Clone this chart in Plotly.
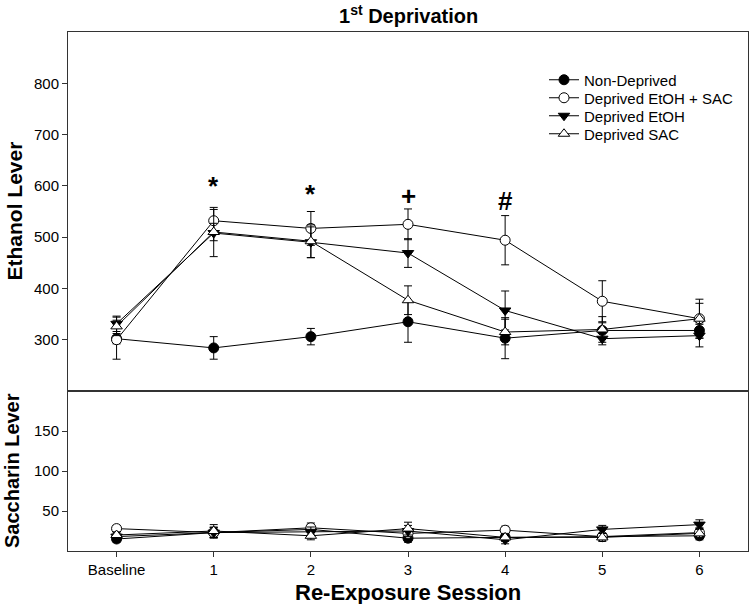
import plotly.graph_objects as go

sessions = [0, 1, 2, 3, 4, 5, 6]
session_labels = ["Baseline", "1", "2", "3", "4", "5", "6"]

series_names = ["Non-Deprived", "Deprived EtOH + SAC", "Deprived EtOH", "Deprived SAC"]

# Ethanol lever (upper panel)
eth_nondep = [302, 284, 306, 335, 303, 318, 318]
eth_nondep_err = [10, 22, 16, 40, 40, 15, 15]
eth_etoh_sac = [300, 532, 517, 525, 494, 375, 341]
eth_etoh_sac_err = [38, 26, 33, 30, 48, 40, 38]
eth_etoh = [331, 508, 490, 469, 357, 302, 308]
eth_etoh_err = [15, 46, 30, 28, 38, 12, 22]
eth_sac = [326, 510, 492, 377, 315, 320, 341]
eth_sac_err = [18, 17, 32, 28, 25, 25, 30]

# Saccharin lever (lower panel)
sac_nondep = [15, 23, 27, 16, 17, 18, 19]
sac_nondep_err = [4, 6, 6, 5, 4, 4, 5]
sac_etoh_sac = [28, 23, 29, 22, 26, 18, 23]
sac_etoh_sac_err = [4, 7, 6, 6, 5, 4, 6]
sac_etoh = [18, 23, 24, 25, 14, 27, 33]
sac_etoh_err = [4, 6, 6, 7, 5, 5, 6]
sac_sac = [20, 25, 19, 28, 17, 17, 22]
sac_sac_err = [4, 8, 5, 8, 5, 5, 6]

# significance markers
sig_sessions = [1, 2, 3, 4]
sig_labels = ["*", "*", "+", "#"]
sig_y = [600, 585, 580, 570]

symbols = ["circle", "circle", "triangle-down", "triangle-up"]
fills = ["black", "white", "black", "white"]
legend_ids = ["legend", "legend2", "legend3", "legend4"]

FONT = "Liberation Sans, Arial, sans-serif"
PLOT_H = 519
split = 160 / PLOT_H
axcol = "#333333"

fig = go.Figure()

upper = [(eth_nondep, eth_nondep_err), (eth_etoh_sac, eth_etoh_sac_err),
         (eth_etoh, eth_etoh_err), (eth_sac, eth_sac_err)]
lower = [(sac_nondep, sac_nondep_err), (sac_etoh_sac, sac_etoh_sac_err),
         (sac_etoh, sac_etoh_err), (sac_sac, sac_sac_err)]

for i, name in enumerate(series_names):
    vals, err = upper[i]
    fig.add_trace(go.Scatter(
        x=sessions, y=vals, name=name, mode="lines+markers",
        xaxis="x2", yaxis="y2", legendgroup=name, legend=legend_ids[i],
        line=dict(color="black", width=1),
        marker=dict(symbol=symbols[i], size=10, color=fills[i],
                    line=dict(color="black", width=1)),
        error_y=dict(type="data", array=err, visible=True, color="black",
                     thickness=1, width=4),
    ))
for i, name in enumerate(series_names):
    vals, err = lower[i]
    fig.add_trace(go.Scatter(
        x=sessions, y=vals, name=name, mode="lines+markers",
        xaxis="x", yaxis="y", legendgroup=name, showlegend=False,
        line=dict(color="black", width=1),
        marker=dict(symbol=symbols[i], size=10, color=fills[i],
                    line=dict(color="black", width=1)),
        error_y=dict(type="data", array=err, visible=True, color="black",
                     thickness=1, width=4),
    ))

layout_legends = {}
for i, lid in enumerate(legend_ids):
    center_px = 80 + 18 * i  # pixel row of each entry, from top of figure
    layout_legends[lid] = dict(
        x=(544 - 68) / 680, y=1 - (center_px - 32) / PLOT_H,
        xanchor="left", yanchor="middle",
        bgcolor="rgba(0,0,0,0)", font=dict(size=15))

fig.update_layout(
    width=749, height=604,
    margin=dict(l=68, r=1, t=32, b=53),
    paper_bgcolor="white", plot_bgcolor="white",
    font=dict(family=FONT, size=15, color="black"),
    showlegend=True,
    xaxis=dict(domain=[0, 1], range=[-0.5, 6.5], anchor="y",
               tickmode="array", tickvals=sessions, ticktext=session_labels,
               ticks="outside", ticklen=5, tickcolor=axcol,
               showline=True, linecolor=axcol, mirror=True,
               showgrid=False, zeroline=False, tickfont=dict(size=15)),
    xaxis2=dict(domain=[0, 1], range=[-0.5, 6.5], anchor="y2", matches="x",
                showticklabels=False, ticks="",
                showline=True, linecolor=axcol, mirror=True,
                showgrid=False, zeroline=False),
    yaxis=dict(domain=[0, split], range=[0, 200], anchor="x",
               tickmode="array", tickvals=[50, 100, 150],
               ticks="outside", ticklen=5, tickcolor=axcol,
               showline=True, linecolor=axcol, mirror=True,
               showgrid=False, zeroline=False, tickfont=dict(size=15)),
    yaxis2=dict(domain=[split, 1], range=[200, 900], anchor="x2",
                tickmode="array", tickvals=[300, 400, 500, 600, 700, 800],
                ticks="outside", ticklen=5, tickcolor=axcol,
                showline=True, linecolor=axcol, mirror=True,
                showgrid=False, zeroline=False, tickfont=dict(size=15)),
    **layout_legends,
)

annotations = [
    dict(text="<b>1<sup>st</sup> Deprivation</b>", xref="paper", yref="paper",
         x=0.5, y=1 + 17 / PLOT_H, xanchor="center", yanchor="middle",
         showarrow=False, font=dict(size=20)),
    dict(text="<b>Ethanol Lever</b>", xref="paper", yref="paper",
         x=-54 / 680, y=split + (1 - split) / 2, xanchor="center", yanchor="middle",
         textangle=-90, showarrow=False, font=dict(size=21)),
    dict(text="<b>Saccharin Lever</b>", xref="paper", yref="paper",
         x=-56 / 680, y=split / 2, xanchor="center", yanchor="middle",
         textangle=-90, showarrow=False, font=dict(size=20)),
    dict(text="<b>Re-Exposure Session</b>", xref="paper", yref="paper",
         x=0.5, y=-41 / PLOT_H, xanchor="center", yanchor="middle",
         showarrow=False, font=dict(size=22)),
]
for s, lab, yy in zip(sig_sessions, sig_labels, sig_y):
    annotations.append(dict(text="<b>" + lab + "</b>", xref="x2", yref="y2",
                            x=s, y=yy, xanchor="center", yanchor="middle",
                            showarrow=False, font=dict(size=26)))
fig.update_layout(annotations=annotations)

fig.write_html("out.html",
               config={"displayModeBar": False},
               post_script="document.body.style.margin='0';"
                           "document.body.style.overflow='hidden';")
